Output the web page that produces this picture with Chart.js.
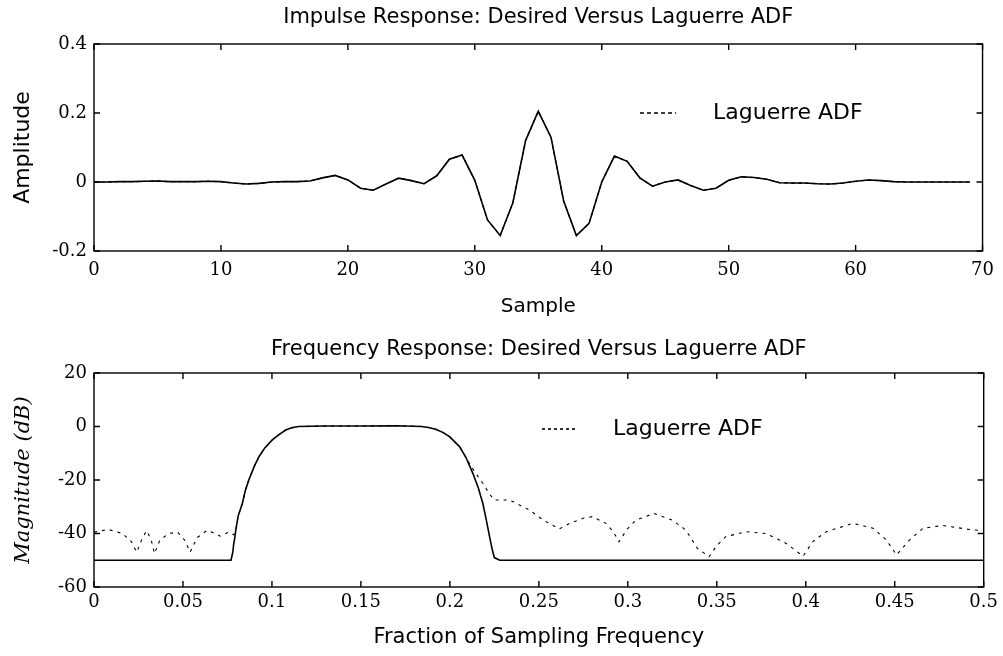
<!DOCTYPE html>
<html>
<head>
<meta charset="utf-8">
<script src="https://cdn.jsdelivr.net/npm/chart.js@4.4.1/dist/chart.umd.min.js"></script>
<style>
  html, body { margin: 0; padding: 0; background: #fff; }
  body { width: 1003px; height: 656px; position: relative; overflow: hidden; }
  canvas { position: absolute; left: 0; }
  #c1 { top: 0; }
  #c2 { top: 330px; }
</style>
</head>
<body>
<canvas id="c1" width="1003" height="330"></canvas>
<canvas id="c2" width="1003" height="326"></canvas>
<script>
// ---------- Impulse response data ----------
const sampleIdx = [0,1,2,3,4,5,6,7,8,9,10,11,12,13,14,15,16,17,18,19,20,21,22,23,24,25,26,27,28,29,30,31,32,33,34,35,36,37,38,39,40,41,42,43,44,45,46,47,48,49,50,51,52,53,54,55,56,57,58,59,60,61,62,63,64,65,66,67,68,69];
const impulseDesired = [0,0,0.001,0.001,0.002,0.003,0.001,0.001,0.001,0.002,0.001,-0.003,-0.006,-0.004,0,0.001,0.001,0.003,0.012,0.019,0.006,-0.018,-0.024,-0.006,0.011,0.004,-0.005,0.018,0.066,0.078,0.005,-0.11,-0.155,-0.06,0.12,0.205,0.13,-0.055,-0.155,-0.12,0.0,0.075,0.06,0.012,-0.012,0.0,0.006,-0.01,-0.024,-0.018,0.005,0.015,0.013,0.008,-0.002,-0.003,-0.003,-0.005,-0.006,-0.003,0.002,0.006,0.004,0.001,0,0,0,0,0,0];
const impulseLaguerre = [0,0,0.001,0.001,0.002,0.003,0.001,0.001,0.001,0.002,0.001,-0.003,-0.006,-0.004,0,0.001,0.001,0.003,0.012,0.019,0.006,-0.018,-0.024,-0.006,0.011,0.004,-0.005,0.018,0.066,0.078,0.005,-0.11,-0.155,-0.06,0.12,0.205,0.13,-0.055,-0.155,-0.12,0.0,0.075,0.06,0.012,-0.012,0.0,0.006,-0.01,-0.024,-0.018,0.005,0.015,0.013,0.008,-0.002,-0.003,-0.003,-0.005,-0.006,-0.003,0.002,0.006,0.004,0.001,0,0,0,0,0,0];
const impulseXTicks = [0,10,20,30,40,50,60,70];
const impulseYTicks = [-0.2,0,0.2,0.4];

// ---------- Frequency response data ----------
const freqDesired = [0,0.077,0.078,0.0785,0.079,0.0797,0.081,0.0834,0.085,0.087,0.09,0.0927,0.096,0.1002,0.104,0.1077,0.111,0.115,0.13,0.15,0.17,0.184,0.188,0.192,0.196,0.1998,0.2054,0.209,0.2129,0.216,0.2185,0.2205,0.2223,0.2238,0.225,0.228,0.5];
const magDesired  = [-50,-50,-47,-44,-42,-38.7,-33.5,-28.7,-24,-20,-15,-11.3,-8,-5,-3,-1.3,-0.5,0,0.2,0.2,0.3,0,-0.4,-1,-2.2,-3.8,-7.5,-11.5,-17.5,-23,-28.7,-35,-41.2,-46,-49,-50,-50];
const freqLaguerre = [0,0.008,0.016,0.021,0.024,0.027,0.0295,0.032,0.034,0.037,0.042,0.047,0.051,0.054,0.058,0.0637,0.068,0.071,0.0757,0.0785,0.0797,0.081,0.0834,0.085,0.087,0.09,0.0927,0.096,0.1002,0.104,0.1077,0.111,0.115,0.13,0.15,0.17,0.184,0.188,0.192,0.196,0.1998,0.2054,0.208,0.211,0.2145,0.2185,0.222,0.225,0.2335,0.2447,0.2525,0.2615,0.268,0.275,0.28,0.2877,0.292,0.295,0.2995,0.3045,0.3147,0.325,0.3326,0.339,0.3457,0.35,0.355,0.3664,0.3776,0.389,0.3985,0.404,0.4116,0.4266,0.4378,0.4453,0.451,0.4584,0.466,0.4772,0.492,0.5];
const magLaguerre  = [-39.5,-38.5,-40,-43,-47,-42,-39,-42,-47.5,-42.5,-40,-39.5,-42.5,-47,-41.5,-38.8,-40,-41,-39.5,-40.5,-38.7,-33.5,-28.7,-24,-20,-15,-11.3,-8,-5,-3,-1.3,-0.5,0,0.2,0.2,0.3,0,-0.4,-1,-2.2,-3.8,-7.5,-10.5,-13.8,-17.5,-21.2,-25,-27.5,-27.5,-31.2,-35,-38.3,-36,-34.3,-33.7,-36.2,-39.5,-43.1,-38.5,-35,-32.5,-35,-38.7,-45.5,-48.7,-44.5,-41.2,-39.3,-40,-43.7,-48.5,-43,-39.3,-36.2,-38,-42.4,-48,-42.4,-38,-37,-38.5,-39];
const freqXTicks = [0,0.05,0.1,0.15,0.2,0.25,0.3,0.35,0.4,0.45,0.5];
const freqYTicks = [-60,-40,-20,0,20];

// ---------- helpers ----------
const tickFont = { family: "'DejaVu Serif', serif", size: 18 };
const sansFam = "'DejaVu Sans', sans-serif";

const boxPlugin = {
  id: 'matlabBox',
  afterDatasetsDraw(chart, args, opts) {
    const { ctx, chartArea: a, scales } = chart;
    ctx.save();
    ctx.strokeStyle = '#000';
    ctx.lineWidth = 1.4;
    ctx.strokeRect(a.left, a.top, a.width, a.height);
    const L = 6;
    ctx.beginPath();
    scales.x.ticks.forEach((t, i) => {
      const px = scales.x.getPixelForTick(i);
      ctx.moveTo(px, a.bottom); ctx.lineTo(px, a.bottom - L);
      ctx.moveTo(px, a.top); ctx.lineTo(px, a.top + L);
    });
    scales.y.ticks.forEach((t, i) => {
      const py = scales.y.getPixelForTick(i);
      ctx.moveTo(a.left, py); ctx.lineTo(a.left + L, py);
      ctx.moveTo(a.right, py); ctx.lineTo(a.right - L, py);
    });
    ctx.stroke();
    if (opts && opts.legend) {
      const lg = opts.legend;
      const ds = chart.data.datasets[lg.datasetIndex];
      ctx.beginPath();
      ctx.setLineDash(lg.dash);
      ctx.lineWidth = 1.6;
      ctx.moveTo(lg.x0, lg.y); ctx.lineTo(lg.x1, lg.y);
      ctx.stroke();
      ctx.setLineDash([]);
      ctx.fillStyle = '#000';
      ctx.font = lg.font;
      ctx.textBaseline = 'middle';
      ctx.textAlign = 'left';
      ctx.fillText(ds.label, lg.tx, lg.y);
    }
    ctx.restore();
  }
};

function setTicks(arr) {
  return function (scale) { scale.ticks = arr.map(v => ({ value: v })); };
}
function fmt(v) { return String(parseFloat(Number(v).toFixed(3))); }

// ---------- Chart 1: impulse response ----------
new Chart(document.getElementById('c1'), {
  type: 'line',
  data: {
    datasets: [
      { label: 'Laguerre ADF', data: impulseLaguerre.map((v, i) => ({ x: sampleIdx[i], y: v })),
        borderColor: '#000', borderWidth: 1.2, borderDash: [4, 3], pointRadius: 0, tension: 0 },
      { label: 'Desired', data: impulseDesired.map((v, i) => ({ x: sampleIdx[i], y: v })),
        borderColor: '#000', borderWidth: 1.6, pointRadius: 0, tension: 0 }
    ]
  },
  options: {
    responsive: false, animation: false,
    layout: { padding: { left: 10, right: 18, top: 0, bottom: 11 } },
    plugins: {
      legend: { display: false },
      tooltip: { enabled: false },
      title: { display: true, text: 'Impulse Response: Desired Versus Laguerre ADF', color: '#000',
        font: { family: sansFam, size: 21, weight: 'normal' }, padding: { top: 5, bottom: 13.8 }, fullSize: false },
      matlabBox: { legend: { datasetIndex: 0, x0: 640, x1: 676, y: 113, tx: 713, dash: [4, 3], font: "22px 'DejaVu Sans', sans-serif" } }
    },
    scales: {
      x: { type: 'linear', min: 0, max: 70,
        afterBuildTicks: setTicks(impulseXTicks),
        afterFit(s) { s.height = 68; },
        grid: { display: false, drawTicks: false }, border: { display: false },
        ticks: { color: '#000', font: tickFont, padding: 9, maxRotation: 0, callback: fmt },
        title: { display: true, text: 'Sample', color: '#000', font: { family: sansFam, size: 20 }, padding: 0 } },
      y: { type: 'linear', min: -0.2, max: 0.4,
        afterBuildTicks: setTicks(impulseYTicks),
        afterFit(s) { s.width = 84; },
        grid: { display: false, drawTicks: false }, border: { display: false },
        ticks: { color: '#000', font: tickFont, padding: 7, callback: fmt },
        title: { display: true, text: 'Amplitude', color: '#000', font: { family: sansFam, size: 22 }, padding: 0 } }
    }
  },
  plugins: [boxPlugin]
});

// ---------- Chart 2: frequency response ----------
new Chart(document.getElementById('c2'), {
  type: 'line',
  data: {
    datasets: [
      { label: 'Laguerre ADF', data: magLaguerre.map((v, i) => ({ x: freqLaguerre[i], y: v })),
        borderColor: '#000', borderWidth: 1.1, borderDash: [3, 5], pointRadius: 0, tension: 0 },
      { label: 'Desired', data: magDesired.map((v, i) => ({ x: freqDesired[i], y: v })),
        borderColor: '#000', borderWidth: 1.6, pointRadius: 0, tension: 0 }
    ]
  },
  options: {
    responsive: false, animation: false,
    layout: { padding: { left: 11, right: 18, top: 0, bottom: 5.4 } },
    plugins: {
      legend: { display: false },
      tooltip: { enabled: false },
      title: { display: true, text: 'Frequency Response: Desired Versus Laguerre ADF', color: '#000',
        font: { family: sansFam, size: 21, weight: 'normal' }, padding: { top: 7.4, bottom: 10.4 }, fullSize: false },
      matlabBox: { legend: { datasetIndex: 0, x0: 542, x1: 578, y: 99, tx: 613, dash: [3, 3], font: "22px 'DejaVu Sans', sans-serif" } }
    },
    scales: {
      x: { type: 'linear', min: 0, max: 0.5,
        afterBuildTicks: setTicks(freqXTicks),
        afterFit(s) { s.height = 63.6; },
        grid: { display: false, drawTicks: false }, border: { display: false },
        ticks: { color: '#000', font: tickFont, padding: 5, maxRotation: 0, callback: fmt },
        title: { display: true, text: 'Fraction of Sampling Frequency', color: '#000', font: { family: sansFam, size: 21 }, padding: 0 } },
      y: { type: 'linear', min: -60, max: 20,
        afterBuildTicks: setTicks(freqYTicks),
        afterFit(s) { s.width = 83; },
        grid: { display: false, drawTicks: false }, border: { display: false },
        ticks: { color: '#000', font: tickFont, padding: 7, callback: fmt },
        title: { display: true, text: 'Magnitude (dB)', color: '#000', font: { family: "'DejaVu Serif', serif", size: 21, style: 'italic' }, padding: 0 } }
    }
  },
  plugins: [boxPlugin]
});
</script>
</body>
</html>
